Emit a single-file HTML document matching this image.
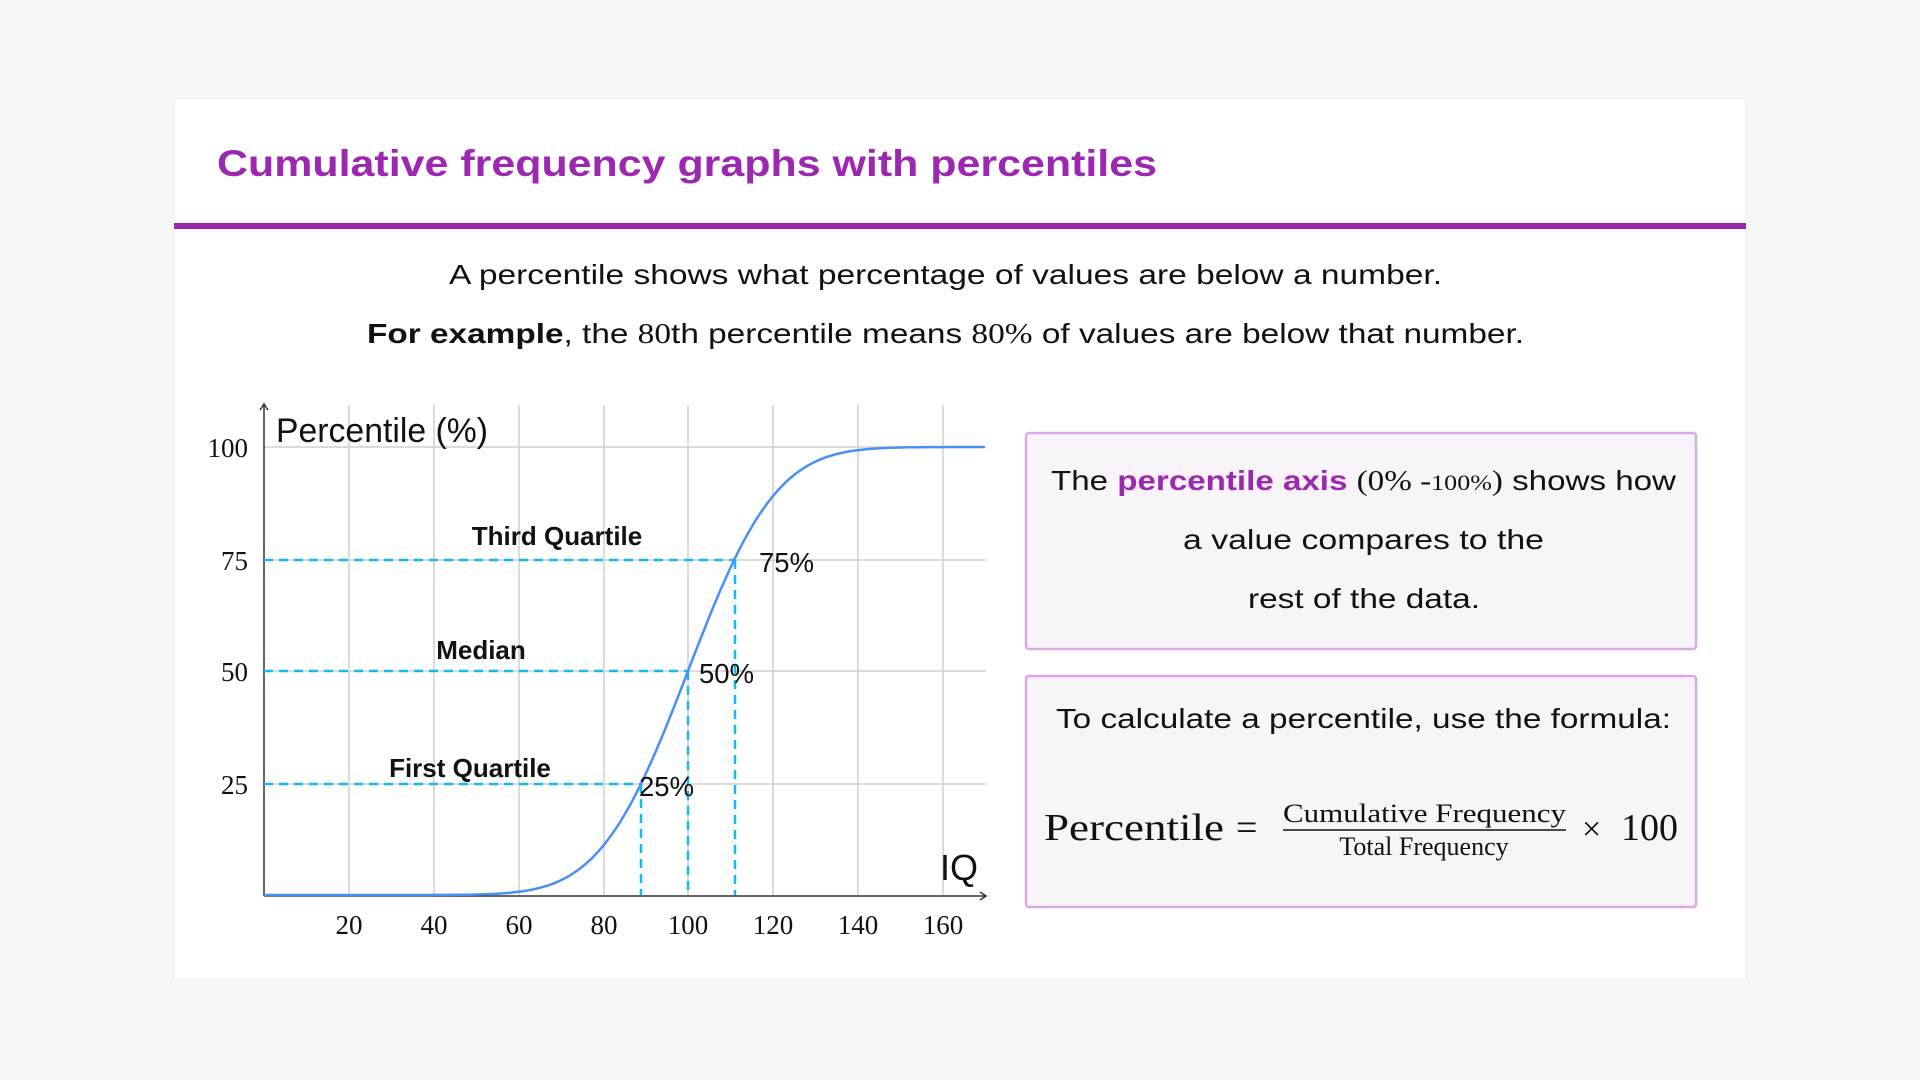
<!DOCTYPE html>
<html><head><meta charset="utf-8"><style>
html,body{margin:0;padding:0;background:#f7f7f7;width:1920px;height:1080px;overflow:hidden}
svg{display:block}
.s{font-family:"Liberation Sans",sans-serif}
.r{font-family:"Liberation Serif",serif}
</style></head><body>
<svg width="1920" height="1080" xmlns="http://www.w3.org/2000/svg">
<rect x="0" y="0" width="1920" height="1080" fill="#f7f7f7"/>
<rect x="174" y="98" width="1572" height="882" fill="#fff" stroke="#ececec" stroke-width="1"/>
<text class="s" x="217" y="176" font-size="37" font-weight="bold" fill="#9c27b0" textLength="940" lengthAdjust="spacingAndGlyphs">Cumulative frequency graphs with percentiles</text>
<rect x="174" y="223" width="1572" height="6" fill="#9c27b0"/>
<text class="s" x="449" y="284" font-size="28" fill="#111" textLength="993" lengthAdjust="spacingAndGlyphs">A percentile shows what percentage of values are below a number.</text>
<text class="s" x="367" y="343" font-size="28" fill="#111" textLength="1157" lengthAdjust="spacingAndGlyphs"><tspan font-weight="bold">For example</tspan>, the <tspan class="r">80</tspan>th percentile means <tspan class="r">80%</tspan> of values are below that number.</text>

<g stroke="#cfcfcf" stroke-width="1.5">
<line x1="349" y1="405" x2="349" y2="895"/><line x1="434" y1="405" x2="434" y2="895"/>
<line x1="519" y1="405" x2="519" y2="895"/><line x1="604" y1="405" x2="604" y2="895"/>
<line x1="688" y1="405" x2="688" y2="895"/><line x1="773" y1="405" x2="773" y2="895"/>
<line x1="858" y1="405" x2="858" y2="895"/><line x1="943" y1="405" x2="943" y2="895"/>
<line x1="264" y1="447" x2="986" y2="447"/><line x1="264" y1="560" x2="986" y2="560"/>
<line x1="264" y1="671" x2="986" y2="671"/><line x1="264" y1="784" x2="986" y2="784"/>
</g>
<g stroke="#333" stroke-width="1.5" fill="none">
<line x1="264" y1="405" x2="264" y2="896"/>
<line x1="264" y1="896" x2="986" y2="896"/>
<path d="M260 410 L264 404 L268 410"/><path d="M980 892 L986 896 L980 900"/>
</g>
<g stroke="#14b8f2" stroke-width="2.5" stroke-dasharray="9,6" fill="none">
<line x1="264" y1="560" x2="735" y2="560"/>
<line x1="264" y1="671" x2="688" y2="671"/>
<line x1="264" y1="784" x2="641" y2="784"/>
<line x1="735" y1="560" x2="735" y2="895"/>
<line x1="688" y1="671" x2="688" y2="895"/>
<line x1="641" y1="784" x2="641" y2="895"/>
</g>
<path id="curve" d="" stroke="#4a8ff5" stroke-width="2.5" fill="none"/>
<script>
(function(){function erf(x){var s=x<0?-1:1;x=Math.abs(x);var t=1/(1+0.3275911*x);var y=1-(((((1.061405429*t-1.453152027)*t)+1.421413741)*t-0.284496736)*t+0.254829592)*t*Math.exp(-x*x);return s*y;}
var d="";for(var v=0;v<=170;v+=1){var p=0.5*(1+erf((v-100)/(16.3*Math.SQRT2)));var x=264+v*4.24,y=895-p*448;d+=(v?"L":"M")+x.toFixed(1)+" "+y.toFixed(1);}
document.getElementById("curve").setAttribute("d",d);})();
</script>
<g class="r" font-size="27" fill="#111" text-anchor="end">
<text x="248" y="457">100</text><text x="248" y="570">75</text>
<text x="248" y="681">50</text><text x="248" y="794">25</text>
</g>
<g class="r" font-size="27" fill="#111" text-anchor="middle">
<text x="349" y="934">20</text><text x="434" y="934">40</text><text x="519" y="934">60</text>
<text x="604" y="934">80</text><text x="688" y="934">100</text><text x="773" y="934">120</text>
<text x="858" y="934">140</text><text x="943" y="934">160</text>
</g>
<text class="s" x="276" y="442" font-size="34" fill="#111" textLength="212" lengthAdjust="spacingAndGlyphs">Percentile (%)</text>
<text class="s" x="940" y="880" font-size="36" fill="#111">IQ</text>
<g class="s" font-size="26" font-weight="bold" fill="#111" text-anchor="middle">
<text x="557" y="545">Third Quartile</text>
<text x="481" y="659">Median</text>
<text x="470" y="777">First Quartile</text>
</g>
<g class="s" font-size="28" fill="#111">
<text x="759" y="572" textLength="55" lengthAdjust="spacingAndGlyphs">75%</text>
<text x="699" y="683" textLength="55" lengthAdjust="spacingAndGlyphs">50%</text>
<text x="639" y="796" textLength="55" lengthAdjust="spacingAndGlyphs">25%</text>
</g>

<rect x="1026" y="433" width="670" height="216" rx="3" fill="#f9f4fa" stroke="#daa8e4" stroke-width="2.5"/>
<rect x="1026" y="676" width="670" height="231" rx="3" fill="#f9f4fa" stroke="#daa8e4" stroke-width="2.5"/>
<text class="s" x="1051" y="490" font-size="28" fill="#111" textLength="625" lengthAdjust="spacingAndGlyphs">The <tspan font-weight="bold" fill="#9c27b0">percentile axis</tspan> <tspan class="r">(0% -</tspan><tspan class="r" font-size="22">100%</tspan><tspan class="r">)</tspan> shows how</text>
<text class="s" x="1183" y="549" font-size="28" fill="#111" textLength="361" lengthAdjust="spacingAndGlyphs">a value compares to the</text>
<text class="s" x="1248" y="608" font-size="28" fill="#111" textLength="232" lengthAdjust="spacingAndGlyphs">rest of the data.</text>
<text class="s" x="1056" y="728" font-size="28" fill="#111" textLength="615" lengthAdjust="spacingAndGlyphs">To calculate a percentile, use the formula:</text>
<g class="r" fill="#111">
<text x="1044" y="840" font-size="38" textLength="180" lengthAdjust="spacingAndGlyphs">Percentile</text>
<text x="1236" y="840" font-size="38">=</text>
<text x="1283" y="822" font-size="26" textLength="283" lengthAdjust="spacingAndGlyphs">Cumulative Frequency</text>
<line x1="1283" y1="830" x2="1566" y2="830" stroke="#111" stroke-width="1.5"/>
<text x="1424" y="855" font-size="26" text-anchor="middle">Total Frequency</text>
<text x="1582" y="840" font-size="34">×</text>
<text x="1621" y="840" font-size="38">100</text>
</g>
</svg>
</body></html>
